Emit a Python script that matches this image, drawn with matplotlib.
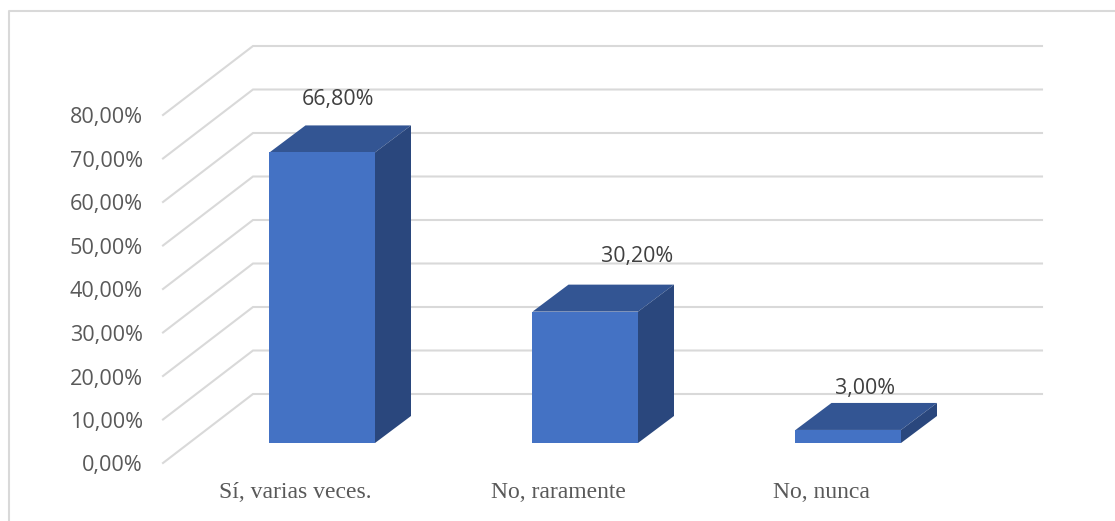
import numpy as np
import matplotlib
matplotlib.use('Agg')
import matplotlib.pyplot as plt
from matplotlib.patches import Polygon

categories = ['Sí, varias veces.', 'No, raramente', 'No, nunca']
values = [66.8, 30.2, 3.0]
value_labels = ['66,80%', '30,20%', '3,00%']
ticks = [0, 10, 20, 30, 40, 50, 60, 70, 80]
tick_labels = ['0,00%', '10,00%', '20,00%', '30,00%', '40,00%', '50,00%', '60,00%', '70,00%', '80,00%']

W, H = 1115, 521
PX_X = 263.0          # pixels per category
PX_Y = 348 / 80.0     # pixels per percent

# the data labels were moved by hand in the original
label_offsets = [(16, 26), (52, 28), (17, 14)]

fig = plt.figure(figsize=(W / 100, H / 100), dpi=100)
fig.patch.set_facecolor('white')

# frame: only left and top edges are inside the crop
frame = fig.add_axes([0, 0, 1, 1])
frame.set_xlim(0, W)
frame.set_ylim(H, 0)
frame.axis('off')
frame.plot([9, 9, W], [H, 11, 11], color='#d9d9d9', lw=1.5)

ax = fig.add_axes([163 / W, (H - 463) / H, 879 / W, 348 / H])
ax.set_xlim(-0.6055, -0.6055 + 879 / PX_X)
ax.set_ylim(0, 80)
ax.axis('off')

x0, x1 = ax.get_xlim()
wall_dx, wall_dy = 90 / PX_X, 69 / PX_Y
for t, lab in zip(ticks, tick_labels):
    ax.plot([x0, x0 + wall_dx, x1], [t, t + wall_dy, t + wall_dy], color='#d9d9d9', lw=1.5,
            clip_on=False, solid_joinstyle='miter', zorder=1)
    ax.annotate(lab, (x0, t), xytext=(-20, -3), textcoords='offset pixels', ha='right', va='center',
                fontsize=15.6, color='#595959', family='Open Sans', annotation_clip=False)

# bars stand part way into the depth of the floor
front_dx, front_dy = 26.5 / PX_X, 20 / PX_Y
depth_dx, depth_dy = 36 / PX_X, 27 / PX_Y
half = 52.75 / PX_X
for i, (cat, v, vlab) in enumerate(zip(categories, values, value_labels)):
    l, r = i - half, i + half
    b, t = front_dy, v + front_dy
    ax.add_patch(Polygon([(l, b), (r, b), (r, t), (l, t)], fc='#4472c4', ec='none', zorder=4, clip_on=False))
    ax.add_patch(Polygon([(l, t), (r, t), (r + depth_dx, t + depth_dy), (l + depth_dx, t + depth_dy)],
                         fc='#335593', ec='none', zorder=3, clip_on=False))
    ax.add_patch(Polygon([(r, b), (r + depth_dx, b + depth_dy), (r + depth_dx, t + depth_dy), (r, t)],
                         fc='#2a477d', ec='none', zorder=3, clip_on=False))
    ax.annotate(vlab, (i, t + depth_dy), xytext=label_offsets[i], textcoords='offset pixels', ha='center', va='center',
                fontsize=15.4, color='#404040', family='Open Sans', annotation_clip=False, zorder=5)
    ax.annotate(cat, (i, 0), xytext=(-27, -29), textcoords='offset pixels', ha='center', va='center',
                fontsize=17, color='#595959', family='Liberation Serif', annotation_clip=False)

fig.savefig('out.png', dpi=100)
